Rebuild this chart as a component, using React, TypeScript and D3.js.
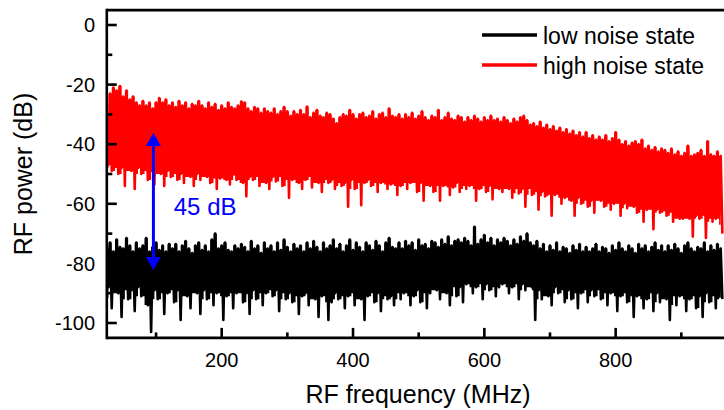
import React from 'react';
import * as d3 from 'd3';

// Spectra: per 5 MHz bin, the highest and lowest trace value (dB)
const FREQ_START = 25;
const FREQ_STEP = 5;

const redMax = [
  -30, -23, -21, -22, -20.5, -24, -22, -25, -24, -26,
  -27, -25.5, -27, -26, -28, -26, -24.5, -26, -25, -27,
  -26, -27.5, -25.5, -27, -26, -28, -26.5, -27, -25.5, -27,
  -28, -26, -27.5, -26.5, -28.5, -27, -28, -26, -27.5, -28,
  -27, -25.7, -26, -28, -29, -27.5, -28, -29.5, -28, -29,
  -29.5, -28, -30, -29, -27.5, -29, -30.5, -29, -30, -28.5,
  -30, -27.4, -31, -29.5, -28.5, -30.5, -31, -29.5, -30, -31.5,
  -33, -31, -30, -30.5, -28.5, -30, -31.5, -30, -29.5, -31,
  -30.5, -29, -31.5, -30, -29.5, -31, -28, -30.5, -31, -30,
  -31.5, -30, -31, -29.5, -31.5, -30.5, -29, -31, -32, -30.5,
  -31, -28.5, -32, -31, -29.5, -31.5, -32, -30.5, -31, -32.5,
  -31, -32, -30.5, -31.5, -32.5, -31, -32, -30.5, -32, -31.5,
  -32.5, -31, -32, -33, -31.5, -32.5, -31, -30.5, -32, -33.5,
  -33, -34, -32.5, -34.5, -33.5, -35, -34, -35.5, -34.5, -36,
  -35, -36.5, -35.5, -37, -36, -37.5, -36, -38, -37, -38.5,
  -37.5, -38.5, -37, -39, -38, -36, -38.5, -40, -39, -40.5,
  -39.5, -39, -40, -38.5, -41.5, -40.5, -42, -41, -42.5, -41.5,
  -42, -43, -41.5, -43.5, -42.5, -44, -43, -40.5, -44, -43.5,
  -43, -42, -44, -39, -43.5, -44, -42.5, -44,
];

const redMin = [
  -47, -49, -46, -50, -48, -54, -47, -49, -55, -48,
  -50, -47, -52, -49, -53.5, -48, -50, -54, -49, -51,
  -49, -52, -50, -53, -48.5, -51, -54, -50, -52, -49.5,
  -51, -53, -50, -55, -51.5, -49, -52, -53.5, -50, -52,
  -50.5, -53, -57.5, -51, -52, -50, -54, -51, -53, -55,
  -51, -52.5, -50, -54, -51, -58, -52, -50.5, -53, -55,
  -52, -50, -54.5, -51, -53, -56, -51.5, -53, -52, -55,
  -51, -54, -53, -61, -52, -55, -51.5, -60.5, -53, -52,
  -54, -51.5, -56, -53, -52, -55, -53.5, -52, -57, -54,
  -52, -55, -53, -51.5, -56, -53, -59, -52.5, -54, -56,
  -53, -59, -54, -52, -57, -54.5, -53, -56, -52.5, -55,
  -54, -52.5, -59, -55, -53, -56, -54, -58.5, -53, -55,
  -56, -53.5, -55, -58, -54, -56.5, -55, -61, -54.5, -57,
  -55, -62, -56, -57.5, -55.5, -64, -57, -56, -60, -58,
  -57, -59, -64, -58, -60, -57.5, -61, -59, -63, -58.5,
  -59, -61, -58.5, -62, -60, -59.5, -64, -60, -61.5, -59,
  -61, -63, -60, -66, -62, -61.5, -68.5, -62, -63, -61,
  -64, -62.5, -66, -63, -65, -65, -63.5, -65, -71, -64,
  -65, -63.5, -71.5, -64, -66, -65, -64, -70,
];

const blackMax = [
  -75, -73, -76, -72, -74.5, -75, -71.5, -74, -76, -73,
  -75, -74, -71.5, -76, -74.5, -73, -75.5, -74, -76, -73.5,
  -75, -73.5, -76, -74, -72.5, -75, -76.5, -74, -73, -75.5,
  -74, -76, -72, -70, -75, -74, -73, -75.5, -76, -74,
  -75, -73.5, -74.5, -76, -72.5, -75, -74, -76.5, -73, -75,
  -74, -76, -73, -75.5, -72, -74.5, -76, -73.5, -75, -74,
  -76, -73, -75, -72.5, -74.5, -76, -73, -75, -74, -72,
  -75, -73.5, -76, -74, -72, -75.5, -73, -74.5, -76, -73,
  -74, -75.5, -72.5, -74, -76, -73, -71.5, -74.5, -75, -73,
  -75, -72.5, -74, -73, -75.5, -72, -74, -73.5, -75, -72.5,
  -73, -74.5, -72, -73.5, -71, -74, -72.5, -72, -73, -71.5,
  -72.5, -74, -67.7, -73.5, -72, -70.5, -73, -71.5, -74, -72,
  -73, -71.5, -72.5, -74, -72, -73.5, -71, -72.5, -70, -73,
  -74, -72.5, -75, -73.5, -76, -74, -75.5, -73, -76, -74.5,
  -75, -76.5, -74, -75.5, -73.5, -76, -74.5, -76, -75, -73.5,
  -76, -74.5, -75, -76.5, -74, -75.5, -73, -75, -76, -74,
  -75, -76.5, -73.5, -75, -74, -76, -74.5, -73, -75.5, -74,
  -76, -74, -75.5, -73.5, -75, -76.5, -74, -73, -75, -76,
  -74.5, -75, -73, -76, -74, -75.5, -73.5, -75,
];

const blackMin = [
  -88, -95, -86, -90, -98, -87, -92, -89, -96, -88,
  -91, -87, -94, -103, -89, -92, -86, -97, -90, -88,
  -93, -89, -99, -87, -91, -95, -88, -90, -97, -89,
  -92, -88, -94, -90, -87, -99, -91, -89, -95, -90,
  -88, -93, -90, -97, -89, -92, -87, -94, -90, -88,
  -91, -89, -96, -88, -92, -90, -93, -89, -97, -91,
  -90, -94, -88, -92, -98, -91, -89, -99, -93, -90,
  -92, -89, -95, -91, -88, -94, -90, -92, -99, -91,
  -89, -93, -90, -96, -88, -92, -91, -94, -89, -92,
  -90, -88, -94, -91, -89, -93, -87, -95, -90, -88,
  -89, -92, -87, -90, -94, -86, -91, -88, -93, -87,
  -86, -90, -88, -85, -92, -87, -89, -86, -91, -88,
  -87, -85, -90, -88, -86, -92, -87, -89, -85, -88,
  -99, -89, -92, -87, -91, -94, -88, -90, -87, -93,
  -89, -92, -88, -95, -90, -87, -93, -89, -91, -88,
  -92, -89, -94, -90, -88, -96, -91, -89, -93, -90,
  -98, -91, -89, -95, -92, -88, -96, -90, -93, -89,
  -92, -99, -90, -94, -91, -89, -96, -92, -90, -95,
  -91, -98, -90, -93, -89, -95, -91, -92,
];

const xDomain = [25, 965];
const yDomain = [-105, 5];
const xMajorTicks = [200, 400, 600, 800];
const xMinorTicks = [100, 300, 500, 700, 900];
const yMajorTicks = [0, -20, -40, -60, -80, -100];
const yMinorTicks = [-10, -30, -50, -70, -90];

const seriesNames = ['low noise state', 'high noise state'];
const seriesColors = ['#000000', '#ff0000'];

// 45 dB annotation (arrow position and ends in data units)
const arrowFreq = 96;
const arrowTop = -36.2;
const arrowBottom = -82.2;
const arrowLabel = '45 dB';
const arrowLabelFreq = 127;
const arrowLabelDb = -63.8;

const W = 724;
const H = 410;
const PL = 106.8;
const PR = 724;
const PT = 10.1;
const PB = 337.9;
const FONT = '"Liberation Sans", Arial, Helvetica, sans-serif';

type Pt = [number, number];

function zigzag(maxArr: number[], minArr: number[]): Pt[] {
  const pts: Pt[] = [];
  maxArr.forEach((v, i) => {
    const f = FREQ_START + i * FREQ_STEP;
    pts.push([f, v]);
    pts.push([f + FREQ_STEP / 2, minArr[i]]);
  });
  return pts;
}

// solid body of the trace: from each bin's maximum down to the median
// minimum of the bin and its neighbours (deeper dips remain as thin spikes)
function core(maxArr: number[], minArr: number[]): { f: number; hi: number; lo: number }[] {
  return maxArr.map((v, i) => {
    const nb = [minArr[i - 1], minArr[i], minArr[i + 1]].filter((d) => d !== undefined);
    return { f: FREQ_START + i * FREQ_STEP, hi: v, lo: d3.median(nb) as number };
  });
}

export default function App() {
  const x = d3.scaleLinear().domain(xDomain).range([PL, PR]);
  const y = d3.scaleLinear().domain(yDomain).range([PB, PT]);
  const line = d3
    .line<Pt>()
    .x((d) => x(d[0]))
    .y((d) => y(d[1]));
  const area = d3
    .area<{ f: number; hi: number; lo: number }>()
    .x((d) => x(d.f))
    .y0((d) => y(d.lo))
    .y1((d) => y(d.hi))
    .curve(d3.curveStep);

  const series = [
    { max: blackMax, min: blackMin, color: seriesColors[0] },
    { max: redMax, min: redMin, color: seriesColors[1] },
  ];

  const ax = x(arrowFreq);
  const aTop = y(arrowTop);
  const aBot = y(arrowBottom);
  const headH = 13;
  const headW = 7.5;
  const blue = '#0000ff';

  return (
    <svg
      width={W}
      height={H}
      style={{ position: 'absolute', left: 0, top: 0, background: '#fff' }}
      fontFamily={FONT}
    >
      <defs>
        <clipPath id="plotClip">
          <rect x={PL} y={PT} width={PR - PL} height={PB - PT} />
        </clipPath>
      </defs>
      <rect x={0} y={0} width={W} height={H} fill="#fff" />
      <g clipPath="url(#plotClip)">
        {series.map((s, k) => (
          <g key={k}>
            <path d={area(core(s.max, s.min)) || ''} fill={s.color} stroke="none" />
            <path
              d={line(zigzag(s.max, s.min)) || ''}
              fill="none"
              stroke={s.color}
              strokeWidth={2.6}
              strokeLinejoin="round"
            />
          </g>
        ))}
      </g>

      {/* arrow annotation */}
      <line x1={ax} x2={ax} y1={aTop + headH - 1} y2={aBot - headH + 1} stroke={blue} strokeWidth={3} />
      <polygon points={`${ax},${aTop} ${ax - headW},${aTop + headH} ${ax + headW},${aTop + headH}`} fill={blue} />
      <polygon points={`${ax},${aBot} ${ax - headW},${aBot - headH} ${ax + headW},${aBot - headH}`} fill={blue} />
      <text x={x(arrowLabelFreq)} y={y(arrowLabelDb)} fontSize={24} fill={blue}>
        {arrowLabel}
      </text>

      {/* frame */}
      <line x1={PL} x2={PR} y1={PT} y2={PT} stroke="#000" strokeWidth={2.6} />
      <line x1={PL} x2={PL} y1={PT - 1.3} y2={PB + 1.3} stroke="#000" strokeWidth={2.6} />
      <line x1={PL} x2={PR} y1={PB} y2={PB} stroke="#000" strokeWidth={2.6} />

      {/* x ticks */}
      {xMajorTicks.map((t) => (
        <g key={'xm' + t}>
          <line x1={x(t)} x2={x(t)} y1={PB} y2={PB - 10} stroke="#000" strokeWidth={2.6} />
          <text x={x(t)} y={367} fontSize={20} textAnchor="middle" fill="#000">
            {t}
          </text>
        </g>
      ))}
      {xMinorTicks.map((t) => (
        <line key={'xn' + t} x1={x(t)} x2={x(t)} y1={PB} y2={PB - 5.5} stroke="#000" strokeWidth={2.6} />
      ))}

      {/* y ticks */}
      {yMajorTicks.map((t) => (
        <g key={'ym' + t}>
          <line x1={PL} x2={PL + 10} y1={y(t)} y2={y(t)} stroke="#000" strokeWidth={2.6} />
          <text x={95} y={y(t)} dy="0.36em" fontSize={20} textAnchor="end" fill="#000">
            {t}
          </text>
        </g>
      ))}
      {yMinorTicks.map((t) => (
        <line key={'yn' + t} x1={PL} x2={PL + 5.5} y1={y(t)} y2={y(t)} stroke="#000" strokeWidth={2.6} />
      ))}

      {/* axis titles */}
      <text x={418} y={403} fontSize={25} textAnchor="middle" fill="#000">
        RF frequency (MHz)
      </text>
      <text
        transform={`translate(32, ${(PT + PB) / 2}) rotate(-90)`}
        fontSize={25}
        textAnchor="middle"
        fill="#000"
      >
        RF power (dB)
      </text>

      {/* legend */}
      {seriesNames.map((name, i) => (
        <g key={name} transform={`translate(0, ${35 + i * 30})`}>
          <line x1={482} x2={537} y1={0} y2={0} stroke={seriesColors[i]} strokeWidth={3.3} />
          <text x={543} y={9} fontSize={23} fill="#000">
            {name}
          </text>
        </g>
      ))}
    </svg>
  );
}
